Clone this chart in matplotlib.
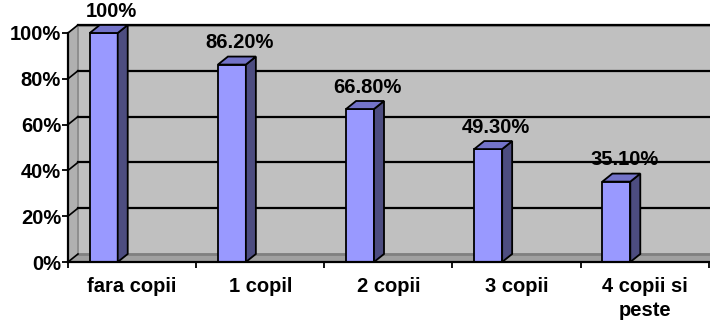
import matplotlib.pyplot as plt

categories = ['fara copii', '1 copil', '2 copii', '3 copii', '4 copii si\npeste']
values = [100, 86.2, 66.8, 49.3, 35.1]
value_labels = ['100%', '86.20%', '66.80%', '49.30%', '35.10%']
y_ticks = [0, 20, 40, 60, 80, 100]
y_tick_labels = ['0%', '20%', '40%', '60%', '80%', '100%']

plt.rcParams['font.family'] = ['Liberation Sans', 'DejaVu Sans']
plt.rcParams['font.weight'] = 'bold'
fs = 14.5

# depth of the fake 3d look, in data units
dx = 0.078
dy = 3.5
off = -0.33  # bar front face starts here relative to category
w = 0.218

fig = plt.figure(figsize=(7.1, 3.25), dpi=100)
ax = fig.add_axes([68 / 710, 63 / 325, 642 / 710, 262 / 325])
ax.set_xlim(-0.5, 4.51)
ax.set_ylim(0, 114.4)

x0 = -0.5
x1 = 4.6

# back wall
ax.fill([x0 + dx, x1, x1, x0 + dx], [dy, dy, 100 + dy, 100 + dy],
        color='#c0c0c0', zorder=0)
ax.plot([x0 + dx, x1], [100 + dy, 100 + dy], color='#888888', lw=2.2, zorder=1)
# left wall
ax.fill([x0, x0 + dx, x0 + dx, x0], [0, dy, 100 + dy, 100],
        color='#b0b0b0', zorder=0)
ax.plot([x0 + dx, x0 + dx], [dy, 100 + dy], color='#888888', lw=1.2, zorder=1)
# floor
ax.fill([x0, 4.5, x1, x0 + dx], [0, 0, dy, dy], color='#a0a0a0', zorder=1)
ax.plot([x0 + dx, x1], [dy, dy], color='#808080', lw=2, zorder=1)

# gridlines on back wall + slanted ticks on left wall
for t in y_ticks[1:]:
    ax.plot([x0 + dx, x1], [t + dy, t + dy], color='black', lw=1.6, zorder=1)
for t in y_ticks:
    ax.plot([x0, x0 + dx], [t, t + dy], color='black', lw=1.2, zorder=2)

# bars
for i, v in enumerate(values):
    a = i + off
    b = a + w
    ax.fill([a, b, b, a], [0, 0, v, v], facecolor='#9999ff',
            edgecolor='black', lw=1.3, zorder=3)
    ax.fill([b, b + dx, b + dx, b], [0, dy, v + dy, v], facecolor='#4d4d80',
            edgecolor='black', lw=1.3, zorder=3)
    ax.fill([a, a + dx, b + dx, b], [v, v + dy, v + dy, v], facecolor='#7373c8',
            edgecolor='black', lw=1.3, zorder=3)
    ax.annotate(value_labels[i], (i - 0.16, v + dy), xytext=(0, 3),
                textcoords='offset points', ha='center', va='bottom',
                fontsize=fs, fontweight='bold', zorder=4)

# axes
for s in ['top', 'right']:
    ax.spines[s].set_visible(False)
ax.spines['left'].set_bounds(0, 100)
ax.spines['bottom'].set_bounds(-0.5, 4.5)
for s in ['left', 'bottom']:
    ax.spines[s].set_linewidth(1.6)
    ax.spines[s].set_zorder(5)

ax.set_yticks(y_ticks)
ax.set_yticklabels(y_tick_labels, fontsize=fs, fontweight='bold')
ax.tick_params(axis='y', direction='out', length=4, width=1.3, pad=1)

ax.set_xticks(range(len(categories)))
ax.set_xticklabels(categories, fontsize=fs, fontweight='bold', linespacing=1.3)
ax.tick_params(axis='x', which='major', length=0, pad=11)
ax.set_xticks([-0.5, 0.5, 1.5, 2.5, 3.5, 4.5], minor=True)
ax.tick_params(axis='x', which='minor', direction='out', length=4, width=1.3)

fig.savefig('out.png', dpi=100)
